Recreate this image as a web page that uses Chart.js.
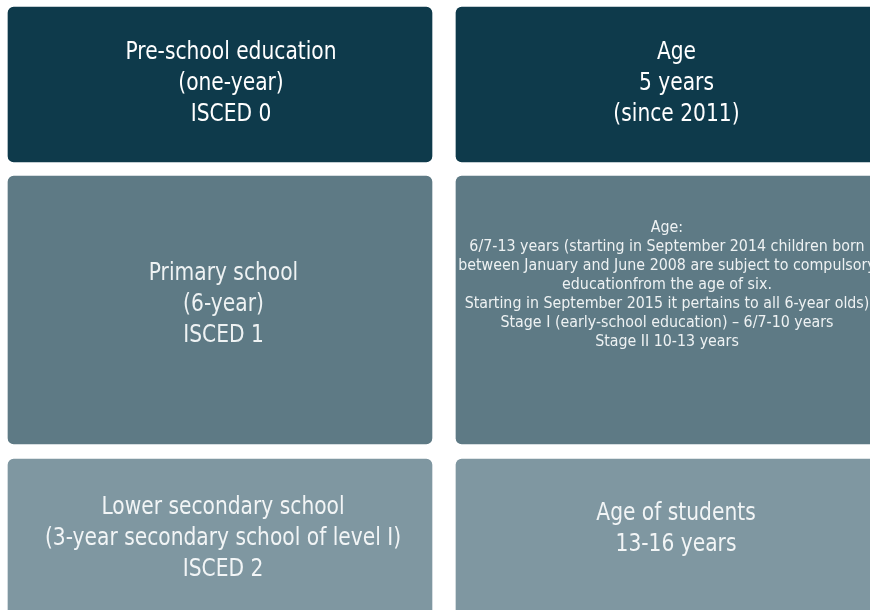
<!DOCTYPE html>
<html>
<head>
<meta charset="utf-8">
<script src="https://cdn.jsdelivr.net/npm/chart.js@4/dist/chart.umd.min.js"></script>
<style>
  body { margin: 0; background: #ffffff; }
  #chart { display: block; }
</style>
</head>
<body>
<canvas id="chart" width="870" height="610"></canvas>
<script>
// Colonnes du schéma (position sur l'axe x)
const columns = ['Programme', 'Age'];
const columnPos = [0, 1];

// Lignes : début et fin de chaque bloc (axe y, de haut en bas)
const rowNames = ['Pre-school', 'Primary', 'Lower secondary'];
const rowStart = [7, 176, 459];
const rowEnd = [162, 444, 625];

// Textes des blocs
const programmeLabels = [
    ['Pre-school education', '(one-year)', 'ISCED 0'],
    ['Primary school', '(6-year)', 'ISCED 1'],
    ['Lower secondary school', '(3-year secondary school of level I)', 'ISCED 2']
];
const ageLabels = [
    ['Age', '5 years', '(since 2011)'],
    ['Age:',
     '6/7-13 years (starting in September 2014 children born',
     'between January and June 2008 are subject to compulsory',
     'educationfrom the age of six.',
     'Starting in September 2015 it pertains to all 6-year olds)',
     'Stage I (early-school education) \u2013 6/7-10 years',
     'Stage II 10-13 years'],
    ['Age of students', '13-16 years']
];

const rowColors = ['#0e3a4b', '#5e7a85', '#7f97a1'];
const textColors = ['#ffffff', '#eef2f3', '#f2f5f6'];

function rowData(col) {
    return rowStart.map((s, i) => ({ x: columnPos[col], y: [s, rowEnd[i]] }));
}

// Plugin pour écrire le texte dans chaque bloc
const boxText = {
    id: 'boxText',
    afterDatasetsDraw(chart, args, opts) {
        const ctx = chart.ctx;
        chart.data.datasets.forEach((ds, di) => {
            const meta = chart.getDatasetMeta(di);
            meta.data.forEach((bar, ri) => {
                const lines = ds.texts[ri];
                const small = lines.length > 4;
                const size = small ? 16 : 24;
                const lh = small ? 19 : 31;
                const sx = small ? 0.89 : 0.843;
                const cap = size * 0.729;
                const nudge = opts.nudge[di][ri];
                const cx = bar.x + nudge[0];
                const cy = (bar.y + bar.base) / 2 + nudge[1];
                ctx.save();
                ctx.fillStyle = textColors[ri];
                ctx.font = size + 'px "DejaVu Sans"';
                ctx.textAlign = 'center';
                ctx.textBaseline = 'alphabetic';
                lines.forEach((line, k) => {
                    ctx.save();
                    ctx.translate(cx, cy + (k - (lines.length - 1) / 2) * lh + cap / 2);
                    ctx.scale(sx, 1);
                    ctx.fillText(line, 0, 0);
                    ctx.restore();
                });
                ctx.restore();
            });
        });
    }
};

const ctx = document.getElementById('chart').getContext('2d');
const chart = new Chart(ctx, {
    type: 'bar',
    data: {
        datasets: [
            {
                label: columns[0],
                data: rowData(0),
                texts: programmeLabels,
                backgroundColor: rowColors,
                barThickness: 424,
                borderRadius: 6,
                borderSkipped: false
            },
            {
                label: columns[1],
                data: rowData(1),
                texts: ageLabels,
                backgroundColor: rowColors,
                barThickness: 438,
                borderRadius: 6,
                borderSkipped: false
            }
        ]
    },
    options: {
        responsive: false,
        animation: false,
        grouped: false,
        layout: { padding: 0 },
        scales: {
            x: { type: 'linear', display: false, offset: false, min: -0.4835, max: 1.4286 },
            y: { type: 'linear', display: false, min: 0, max: 610, reverse: true }
        },
        plugins: {
            legend: { display: false },
            tooltip: { enabled: false },
            boxText: {
                nudge: [
                    [[11, -3], [3.5, -8], [3, -5.5]],
                    [[1.5, -3], [-8, -26.5], [1, -15]]
                ]
            }
        }
    },
    plugins: [boxText]
});
</script>
</body>
</html>
